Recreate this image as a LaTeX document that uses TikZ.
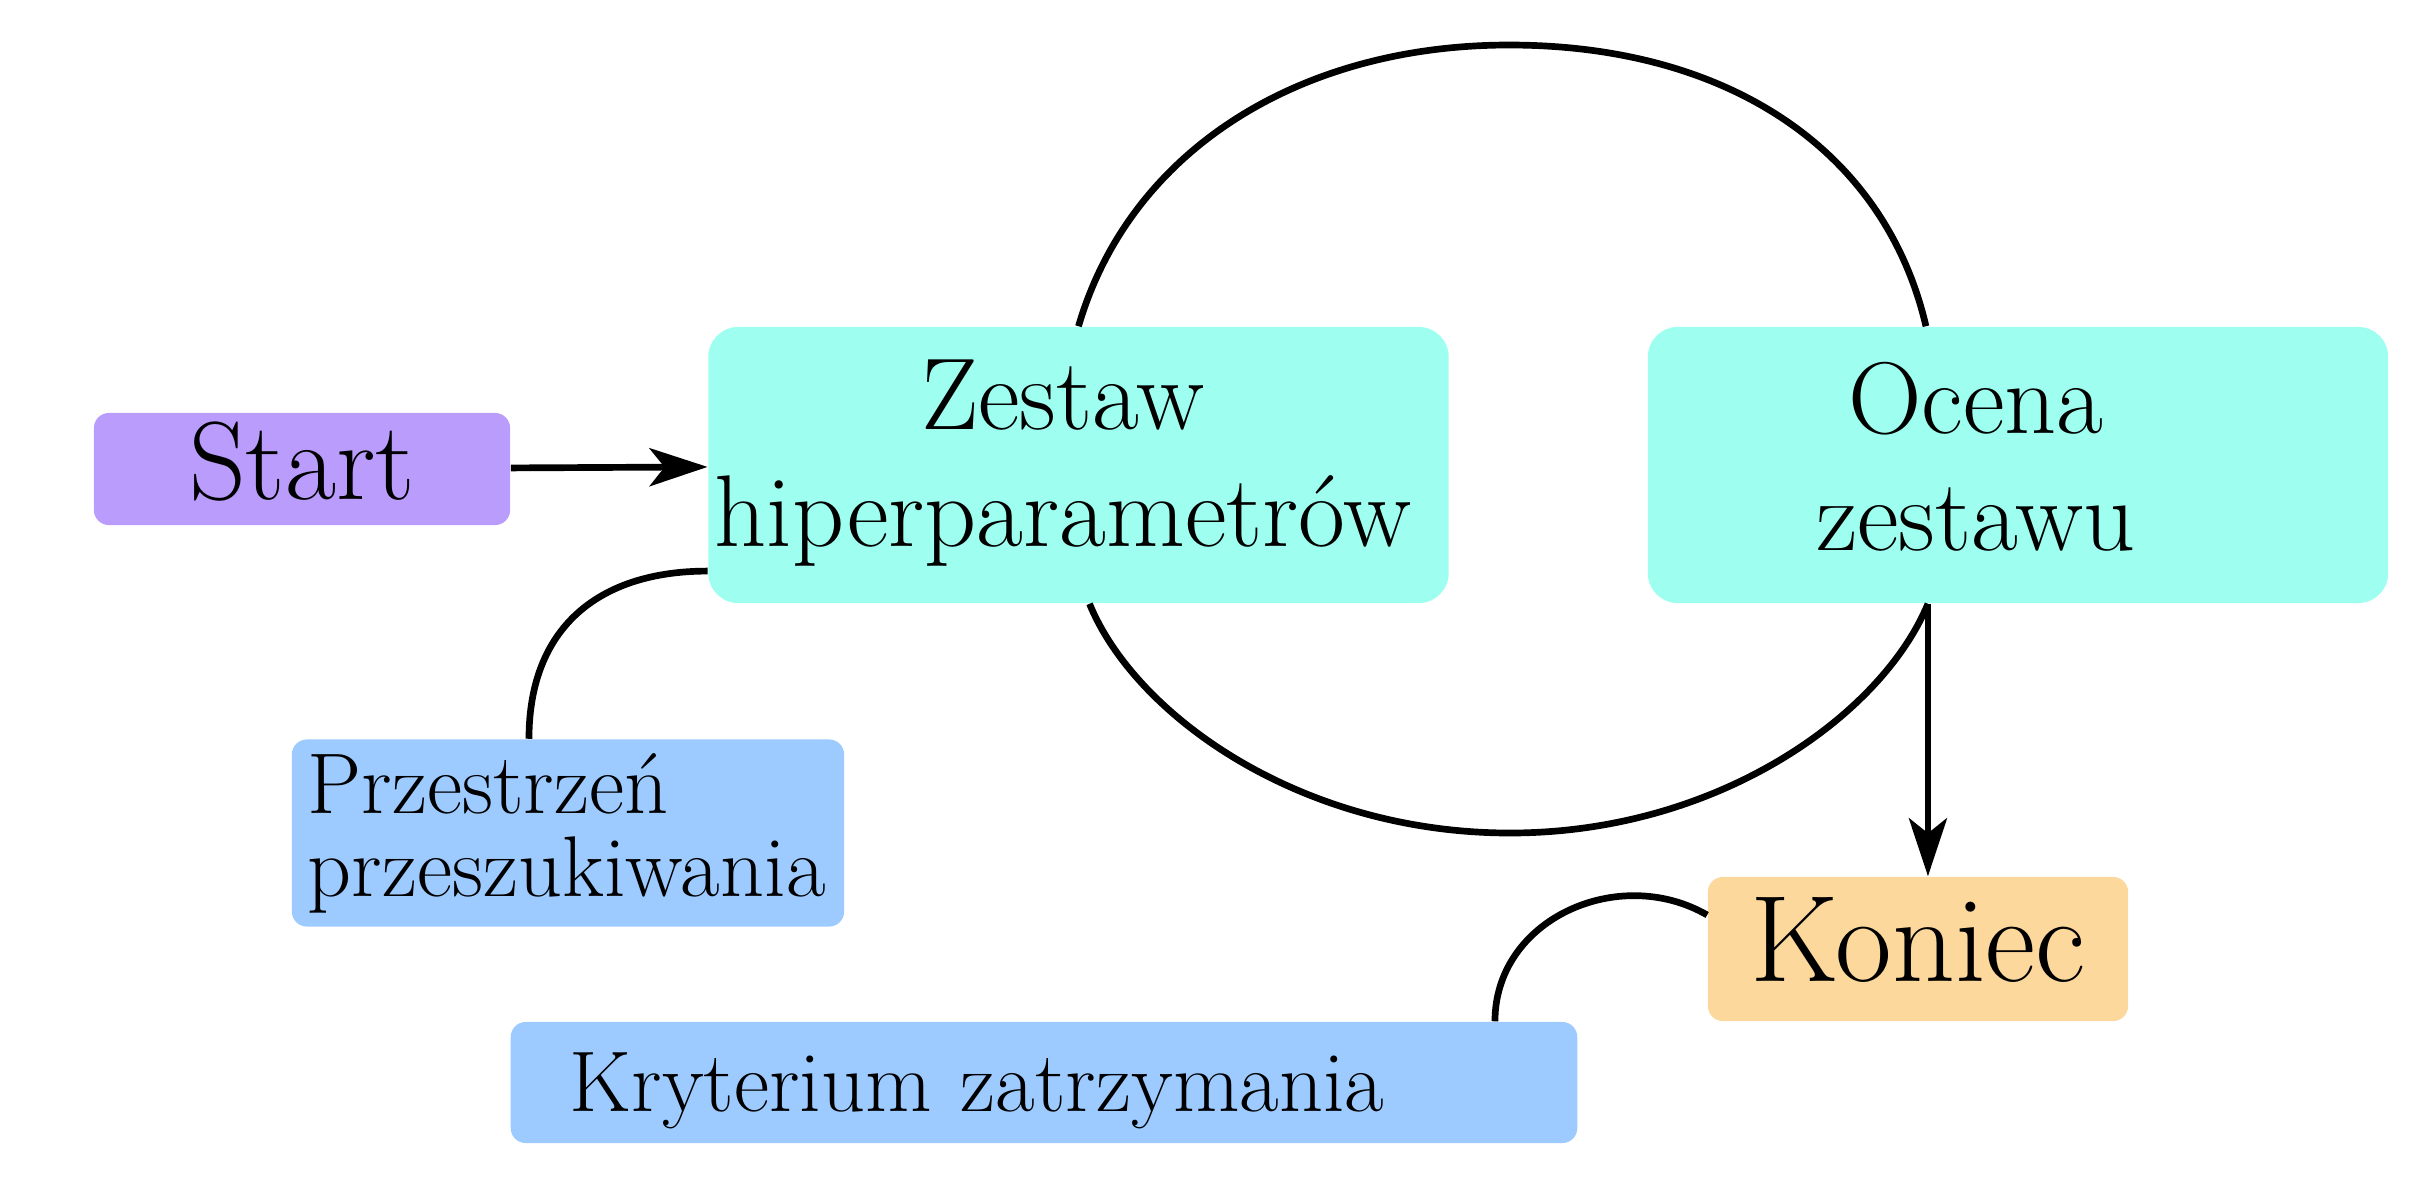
\documentclass[tikz,border=0pt]{standalone}
\usetikzlibrary{arrows.meta}
\definecolor{cstart}{RGB}{186,156,252}
\definecolor{ccyan}{RGB}{158,255,240}
\definecolor{cblue}{RGB}{158,203,255}
\definecolor{corange}{RGB}{253,216,156}
\begin{document}
\begin{tikzpicture}[x=0.01cm,y=-0.01cm,
  box/.style={rectangle, rounded corners=0.15cm, inner sep=0pt, draw=none},
  bigbox/.style={box, fill=ccyan, rounded corners=0.3cm, minimum width=7.4cm, minimum height=2.76cm},
  bigtext/.style={inner sep=0pt, font=\fontsize{29}{33.3}\selectfont, align=center},
  smalltext/.style={font=\fontsize{24.5}{23.6}\selectfont, align=left},
  conn/.style={line width=1.9pt, black},
  arr/.style={conn, -{Stealth[length=0.58cm,width=0.38cm,inset=0.15cm]}},
]
\useasboundingbox (0,0) rectangle (2420,1190);

% boxes
\node[box, fill=cstart, minimum width=4.16cm, minimum height=1.12cm,
      text height=0.76cm, text depth=0.16cm,
      font=\fontsize{31.6}{38}\selectfont] (start) at (302,469) {Start};
\node[bigbox] (zestaw) at (1078.5,465) {};
\node[bigtext] (zestawtxt) at (1063,463.5) {Zestaw\\hiperparametrów};
\node[bigbox] (ocena) at (2018,465) {};
\node[bigtext] (ocenatxt) at (1976,457) {Ocena\\zestawu};
\node[box, fill=cblue, minimum width=5.52cm, minimum height=1.87cm,
      smalltext, text width=5.2cm] (przestrzen) at (568,833) {Przestrzeń\\przeszukiwania};
\node[box, fill=corange, minimum width=4.2cm, minimum height=1.44cm,
      text height=0.84cm, text depth=0.2cm,
      font=\fontsize{35}{42}\selectfont] (koniec) at (1918,949) {Koniec};
\node[box, fill=cblue, minimum width=10.66cm, minimum height=1.21cm,
      text depth=0pt, smalltext, text width=9.48cm] (kryterium) at (1044,1082.5) {Kryterium zatrzymania};

% named ends of the connectors
\coordinate (ocn) at ([xshift=-0.92cm]ocena.north);
\coordinate (ocb) at ([xshift=-0.9cm]ocena.south);
\coordinate (zsb) at ([xshift=0.11cm]zestaw.south);

% connectors
\draw[arr] (start) -- (zestaw);
\draw[conn] (zestaw.north) .. controls (1130,150) and (1300,45) .. (1509,45)
            .. controls (1728,45) and (1885,150) .. (ocn);
\draw[conn] (zsb) .. controls (1135,715) and (1300,833) .. (1510,833)
            .. controls (1718,833) and (1882,715) .. (ocb);
\draw[arr] (ocb) -- (ocb |- koniec.north);
\draw[conn] ([xshift=-0.39cm]przestrzen.north) to[out=90,in=180,looseness=1.15] ([yshift=-1.06cm]zestaw.west);
\draw[conn] ([xshift=-0.83cm]kryterium.north east) to[out=90,in=150,looseness=1.1] ([yshift=0.34cm]koniec.west);
\end{tikzpicture}
\end{document}
